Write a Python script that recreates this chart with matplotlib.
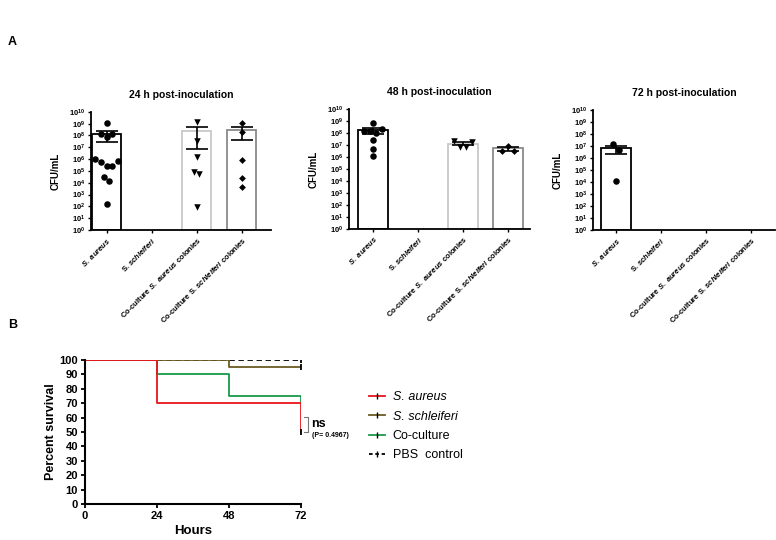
import matplotlib
matplotlib.use("Agg")
import matplotlib.pyplot as plt
from matplotlib.lines import Line2D
import numpy as np

plt.rcParams['font.family'] = ['Liberation Sans', 'DejaVu Sans']
plt.rcParams['font.weight'] = 'bold'
plt.rcParams['axes.titleweight'] = 'bold'
plt.rcParams['axes.labelweight'] = 'bold'
plt.rcParams['mathtext.fontset'] = 'custom'
plt.rcParams['mathtext.rm'] = 'Liberation Sans:bold'
plt.rcParams['mathtext.bf'] = 'Liberation Sans:bold'
plt.rcParams['mathtext.it'] = 'Liberation Sans:bold:italic'

# ---- panel A data (CFU/mL per animal) ----
groups = [r"$S.\ aureus$", r"S. $schleiferi$",
          r"Co-culture $S.\ aureus$ colonies", r"Co-culture S. $schleiferi$ colonies"]
titles = ["24 h post-inoculation", "48 h post-inoculation", "72 h post-inoculation"]

h24_aureus = [1.2e9, 1.2e8, 7.8e7, 1.3e8, 1.0e6, 5.2e5, 2.6e5, 2.6e5, 7.2e5, 3.2e4, 1.4e4, 1.6e2]
h24_co_aureus = [1.4e9, 3.3e7, 1.6e6, 8.5e4, 5.0e4, 9.3e1]
h24_co_schl = [1.17e9, 1.8e8, 8.3e5, 2.3e4, 4.6e3]

h48_aureus = [1.4e8, 1.5e8, 6.8e8, 1.0e8, 2.3e8, 2.5e7, 4.7e6, 1.3e6]
h48_co_aureus = [2.0e7, 6.8e6, 6.8e6, 1.8e7]
h48_co_schl = [3.4e6, 8.7e6, 3.4e6]

h72_aureus = [1.4e7, 5.2e6, 1.2e4]

# ---- panel B data (percent survival) ----
t_aureus, s_aureus = [0, 24, 72], [100, 70, 50]
t_schl, s_schl = [0, 48, 72], [100, 95, 95]
t_co, s_co = [0, 24, 48, 72], [100, 90, 75, 70]
t_pbs, s_pbs = [0, 72], [100, 100]
hour_ticks = [0, 24, 48, 72]


def swarm(vals, step=0.13, gap=0.45):
    # points whose log values chain within `gap` share a row, spread symmetrically
    logs = np.log10(vals)
    order = np.argsort(logs)
    clusters, cur = [], [order[0]]
    for a, b in zip(order[:-1], order[1:]):
        if logs[b] - logs[a] < gap:
            cur.append(b)
        else:
            clusters.append(cur)
            cur = [b]
    clusters.append(cur)
    offs = np.zeros(len(vals))
    for c in clusters:
        c = sorted(c)
        n = len(c)
        for j, idx in enumerate(c):
            offs[idx] = (j - (n - 1) / 2) * step
    return offs


fig = plt.figure(figsize=(7.76, 5.4), dpi=100)

panels = [
    ([0.117, 0.574, 0.232, 0.219], (-0.35, 3.65),
     [(0, h24_aureus, 'o', 'black'), (2, h24_co_aureus, 'v', '#c8c8c8'), (3, h24_co_schl, 'D', '#8a8a8a')]),
    ([0.450, 0.576, 0.2335, 0.222], (-0.53, 3.5),
     [(0, h48_aureus, 'o', 'black'), (2, h48_co_aureus, 'v', '#c8c8c8'), (3, h48_co_schl, 'D', '#8a8a8a')]),
    ([0.764, 0.574, 0.2345, 0.222], (-0.51, 3.53),
     [(0, h72_aureus, 'o', 'black')]),
]

for (rect, xl, series), title in zip(panels, titles):
    ax = fig.add_axes(rect)
    for pos, vals, mk, ec in series:
        vals = np.array(vals)
        m = vals.mean()
        sem = vals.std(ddof=1) / np.sqrt(len(vals))
        ax.bar(pos, m, width=0.66, bottom=1, facecolor='white', edgecolor=ec, linewidth=1.3, zorder=1)
        ax.errorbar(pos, m, yerr=[[min(sem, m * 0.99)], [sem]], color='black', capsize=8,
                    lw=1.2, capthick=1.2, zorder=3)
        ms = 22 if mk != 'D' else 12
        ax.scatter(pos + swarm(vals), vals, marker=mk, s=ms, color='black', zorder=4, linewidths=0)
    ax.set_yscale('log')
    ax.set_ylim(1, 1e10)
    ax.set_xlim(*xl)
    ax.set_yticks([10.0 ** k for k in range(11)])
    ax.set_yticklabels([f"$10^{{{k}}}$" for k in range(11)], fontsize=5.5)
    ax.minorticks_off()
    ax.set_xticks(range(4))
    ax.set_xticklabels(groups, rotation=45, ha='right', rotation_mode='anchor', fontsize=5.5)
    ax.tick_params(axis='both', length=2.5, width=1, pad=1.5)
    for s in ['top', 'right']:
        ax.spines[s].set_visible(False)
    for s in ['left', 'bottom']:
        ax.spines[s].set_linewidth(1.3)
    ax.set_ylabel("CFU/mL", fontsize=7, labelpad=6)
    ax.set_title(title, fontsize=7.5, pad=10)

# ---- panel B ----
axb = fig.add_axes([0.1095, 0.0667, 0.278, 0.2667])
axb.plot(t_pbs, s_pbs, color='black', ls=(0, (3, 2)), lw=1.3)
axb.step(t_co, s_co, where='post', color='#1a9a4a', lw=1.3)
axb.step(t_schl, s_schl, where='post', color='#6b5a22', lw=1.3)
axb.step(t_aureus, s_aureus, where='post', color='#e8141b', lw=1.3)
for t, s in [(t_pbs, s_pbs), (t_schl, s_schl), (t_aureus, s_aureus)]:
    axb.plot(t[-1], s[-1], marker='|', color='black', ms=5, mew=1.3)
axb.set_xlim(0, 72)
axb.set_ylim(0, 100)
axb.set_xticks(hour_ticks)
axb.set_yticks(range(0, 101, 10))
axb.tick_params(axis='both', length=3, width=1.3, labelsize=8, pad=2)
for s in ['top', 'right']:
    axb.spines[s].set_visible(False)
for s in ['left', 'bottom']:
    axb.spines[s].set_linewidth(1.5)
axb.set_xlabel("Hours", fontsize=9.5, labelpad=3)
axb.set_ylabel("Percent survival", fontsize=9, labelpad=2)

axb.plot([73, 74.4, 74.4, 73], [60.5, 60.5, 50, 50], color='#777777', lw=0.8, clip_on=False)
axb.text(75.5, 55.5, "ns", fontsize=9, va='center', ha='left')
axb.text(75.7, 47.5, "(P= 0.4967)", fontsize=5, va='center', ha='left')

handles = [
    Line2D([], [], color='#e8141b', lw=1.3, marker='|', mec='black', ms=4),
    Line2D([], [], color='#6b5a22', lw=1.3, marker='|', mec='black', ms=4),
    Line2D([], [], color='#1a9a4a', lw=1.3, marker='|', mec='black', ms=4),
    Line2D([], [], color='black', lw=1.3, ls=(0, (2, 1.5)), marker='|', mec='black', ms=4),
]
labels = ["S. aureus", "S. schleiferi", "Co-culture", "PBS  control"]
leg = fig.legend(handles, labels, loc='upper left', bbox_to_anchor=(369 / 776, 1 - 391 / 540),
                 frameon=False, fontsize=9, handlelength=1.3, handletextpad=0.6, labelspacing=0.6,
                 borderaxespad=0, borderpad=0)
for i, txt in enumerate(leg.get_texts()):
    txt.set_fontweight('normal')
    if i < 2:
        txt.set_fontstyle('italic')

fig.text(8 / 776, 1 - 42 / 540, "A", fontsize=9, va='center')
fig.text(8 / 776, 1 - 325 / 540, "B", fontsize=9, va='center')

fig.savefig("out.png", dpi=100)
